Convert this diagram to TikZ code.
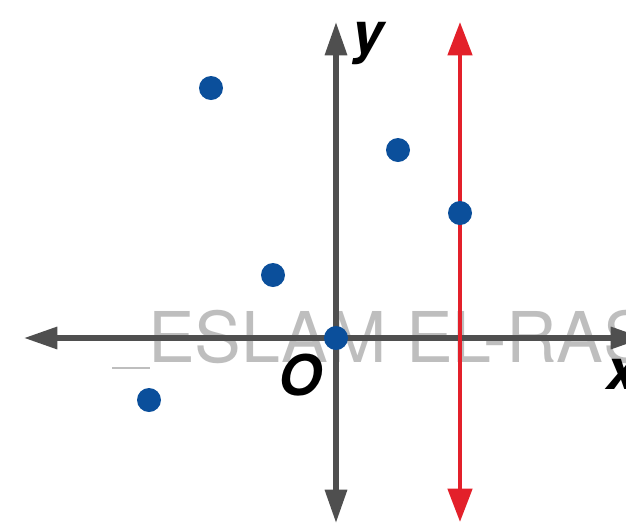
\documentclass[tikz,border=0pt]{standalone}
\usepackage{fontspec}
\setmainfont{TeX Gyre Heros}
\usetikzlibrary{arrows.meta}
\definecolor{axisgray}{HTML}{4F4F4F}
\definecolor{linered}{HTML}{E3202A}
\definecolor{dotblue}{HTML}{0B4F9B}
\definecolor{wmgray}{HTML}{BEBEBE}
\begin{document}
\begin{tikzpicture}[x=0.75pt,y=-0.75pt,
  axis/.style={draw=axisgray,line width=4pt,{Triangle[length=25pt,width=16pt]}-{Triangle[length=25pt,width=16pt]}},
  vline/.style={draw=linered,line width=3.4pt,{Triangle[length=25pt,width=18pt]}-{Triangle[length=25pt,width=18pt]}},
  pt/.style={circle,fill=dotblue,inner sep=0pt,minimum size=18pt},
  lbl/.style={font=\fontsize{42}{42}\selectfont\bfseries\itshape,text=black,inner sep=0pt},
  wm/.style={font=\fontsize{52.5}{52.5}\selectfont,text=wmgray,inner sep=0pt,anchor=base west}]
\clip (0,0) rectangle (626,526);
\fill[white] (0,0) rectangle (626,526);
% watermark
\node[wm] (wmark) at (148,362) {ESLAM EL-RAS};
\draw[wmgray,line width=1pt] (112,368) -- (150,368);
% axes
\coordinate (xl) at (24,338);
\coordinate (xr) at (644,338);
\coordinate (yb) at (336,523);
\coordinate (yt) at (336,22);
\draw[axis] (xl) -- (xr);
\draw[axis] (yb) -- (yt);
% red vertical line
\coordinate (rb) at (460,522);
\coordinate (rt) at (460,22);
\draw[vline] (rb) -- (rt);
% labels
\node[lbl] (ylab) at (368,44) {y};
\node[lbl] (olab) at (300,375) {O};
\node[lbl,anchor=west] (xlab) at (606,374) {x};
% points
\node[pt] (p1) at (211,88) {};
\node[pt] (p2) at (398,150) {};
\node[pt] (p3) at (460,213) {};
\node[pt] (p4) at (273,275) {};
\node[pt] (p5) at (336,338) {};
\node[pt] (p6) at (149,400) {};
\end{tikzpicture}
\end{document}
